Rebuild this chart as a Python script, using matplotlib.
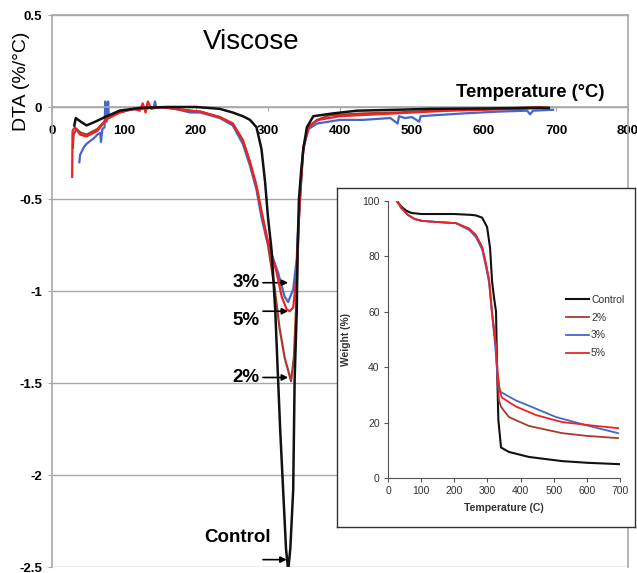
import numpy as np
import matplotlib
matplotlib.use("Agg")
import matplotlib.pyplot as plt

plt.rcParams['font.family'] = ['Liberation Sans', 'DejaVu Sans']

# DTA curves (temperature in C, DTA in %/C)
ctrl_t = [31, 33, 40, 48, 60, 76, 94, 122, 160, 200, 233, 251, 265, 275, 284, 291, 296, 300, 305, 310, 314, 317, 321, 325, 328,
          331, 335, 337, 340, 341, 343, 346, 349, 354, 363, 390, 424, 480, 525, 600, 664, 690]
ctrl_y = [-0.10, -0.06, -0.08, -0.10, -0.08, -0.05, -0.02, -0.005, 0.0, 0.0, -0.01, -0.03, -0.05, -0.07, -0.11, -0.23, -0.41, -0.60, -0.78, -1.10, -1.48, -1.76, -2.08, -2.40, -2.52,
          -2.40, -2.08, -1.48, -1.10, -0.78, -0.50, -0.35, -0.23, -0.11, -0.05, -0.035, -0.02, -0.015, -0.01, -0.008, -0.005, -0.005]

p2_t = [29, 30, 34, 40, 48, 63, 76, 94, 113, 150, 192, 206, 233, 251, 265, 275, 284, 291, 298, 309, 316, 323, 332,
        336, 339, 341, 343, 346, 349, 356, 368, 386, 432, 479, 530, 571, 620, 677, 690]
p2_y = [-0.22, -0.15, -0.12, -0.14, -0.15, -0.12, -0.065, -0.03, -0.01, 0.0, -0.02, -0.025, -0.055, -0.09, -0.18, -0.30, -0.43, -0.57, -0.70, -0.98, -1.20, -1.36, -1.49,
        -1.36, -1.09, -0.85, -0.60, -0.40, -0.22, -0.11, -0.07, -0.045, -0.035, -0.03, -0.02, -0.015, -0.01, 0.0, -0.005]

p3_t = [38, 39, 44, 48, 58, 63, 67, 68, 70, 73, 74, 76, 78, 79, 81, 94, 122, 141, 143, 145, 160, 192, 206, 233, 251, 265, 275, 284, 291, 298, 305, 314, 323, 328,
        335, 340, 341, 343, 346, 349, 356, 368, 400, 432, 470, 480, 482, 490, 500, 510, 512, 530, 571, 620, 660, 664, 668, 696]
p3_y = [-0.30, -0.26, -0.22, -0.20, -0.17, -0.15, -0.14, -0.19, -0.12, -0.11, 0.03, -0.08, 0.03, -0.06, -0.05, -0.02, -0.01, -0.005, 0.03, -0.005, 0.0, -0.03, -0.03, -0.06, -0.10, -0.20, -0.32, -0.45, -0.60, -0.72, -0.80, -0.90, -1.03, -1.06,
        -0.99, -0.82, -0.72, -0.60, -0.41, -0.23, -0.12, -0.09, -0.07, -0.07, -0.06, -0.09, -0.05, -0.06, -0.055, -0.08, -0.05, -0.045, -0.035, -0.025, -0.02, -0.04, -0.02, -0.015]

p5_t = [28, 28.5, 30, 32, 39, 48, 63, 76, 94, 113, 122, 126, 130, 133, 138, 150, 192, 206, 233, 251, 265, 275, 284, 291, 298, 305, 312, 319, 326, 330,
        335, 340, 342, 344, 347, 350, 358, 370, 400, 450, 500, 550, 600, 650, 680]
p5_y = [-0.38, -0.13, -0.12, -0.11, -0.15, -0.16, -0.13, -0.065, -0.03, -0.01, -0.02, 0.02, -0.03, 0.03, -0.01, 0.0, -0.02, -0.025, -0.055, -0.09, -0.18, -0.30, -0.43, -0.57, -0.70, -0.80, -0.90, -1.03, -1.10, -1.11,
        -1.09, -0.90, -0.70, -0.50, -0.32, -0.20, -0.10, -0.07, -0.05, -0.04, -0.03, -0.02, -0.015, -0.01, -0.005]

# TGA curves for the inset (temperature in C, weight %)
tga_ctrl_t = [27, 40, 55, 70, 100, 150, 200, 250, 265, 284, 299, 308, 314, 320, 326, 329, 333, 341, 365, 425, 525, 600, 697]
tga_ctrl_w = [100, 98, 96.5, 95.7, 95.3, 95.3, 95.3, 95.0, 94.8, 94.0, 90.6, 83, 71, 65, 60, 40, 21, 11, 9.4, 7.6, 6.1, 5.5, 5.0]

tga_2_t = [27, 40, 60, 80, 103, 150, 205, 245, 265, 284, 295, 305, 314, 326, 330, 335, 341, 365, 425, 525, 600, 694]
tga_2_w = [100, 97.5, 95, 93.5, 92.8, 92.4, 92, 90, 87.7, 83.4, 77.6, 71.5, 59.6, 47.4, 36, 28, 25.7, 22, 18.8, 16.2, 15.2, 14.4]

tga_3_t = [27, 40, 60, 80, 103, 150, 205, 245, 265, 284, 295, 305, 314, 324, 330, 336, 341, 386, 447, 507, 606, 694]
tga_3_w = [100, 97.5, 95, 93.5, 92.8, 92.4, 92, 89.5, 87, 82.5, 76.5, 70.5, 59, 47, 37, 32, 31, 28, 25, 22, 18.8, 16.2]

tga_5_t = [27, 40, 60, 80, 103, 150, 205, 245, 265, 284, 295, 305, 314, 326, 331, 338, 344, 386, 447, 525, 627, 694]
tga_5_w = [100, 97.5, 95, 93.5, 92.8, 92.4, 92, 90, 87.7, 83.4, 77.6, 71.5, 59.6, 47.4, 38, 31, 29, 25.8, 22.7, 20.2, 18.8, 18.0]

labels = ['Control', '2%', '3%', '5%']
colors = ['#111111', '#a83a2a', '#4466cc', '#ee2222']

# peak notes: label, label y, arrow y
note_names = ['3%', '5%', '2%', 'Control']
note_text_y = [-0.955, -1.16, -1.47, -2.34]
note_arrow_y = [-0.955, -1.11, -1.47, -2.46]

fig = plt.figure(figsize=(6.37, 5.73), dpi=100)
ax = fig.add_axes([52 / 637, 6 / 573, 576 / 637, 552 / 573])

grid_col = '#a8a8a8'
ax.plot(ctrl_t, ctrl_y, color=colors[0], lw=1.8, zorder=5)
ax.plot(p2_t, p2_y, color=colors[1], lw=1.6, zorder=3)
ax.plot(p3_t, p3_y, color=colors[2], lw=1.6, zorder=2)
ax.plot(p5_t, p5_y, color=colors[3], lw=1.6, zorder=4)

ax.set_xlim(0, 800)
ax.set_ylim(-2.5, 0.5)
ax.set_xticks(np.arange(0, 801, 100))
ax.set_yticks([-2.5, -2, -1.5, -1, -0.5, 0, 0.5])
ax.set_yticklabels(['-2.5', '-2', '-1.5', '-1', '-0.5', '0', '0.5'])
ax.yaxis.grid(True, color=grid_col, lw=1)
ax.set_axisbelow(True)
for s in ax.spines.values():
    s.set_color(grid_col)
    s.set_linewidth(1.2)
ax.spines['bottom'].set_position(('data', 0))
ax.tick_params(axis='x', length=3, color=grid_col, pad=10, labelsize=9.5)
ax.tick_params(axis='y', length=3, color=grid_col, pad=4, labelsize=9.5)
for lab in ax.get_xticklabels() + ax.get_yticklabels():
    lab.set_fontweight('bold')

ax.text(0.345, 0.951, 'Viscose', transform=ax.transAxes, fontsize=20, ha='center', va='center')
ax.text(0.83, 0.86, 'Temperature (°C)', transform=ax.transAxes, fontsize=13.3,
        fontweight='bold', ha='center', va='center')
fig.text(22 / 637, 1 - 81 / 573, 'DTA (%/°C)', rotation=90, fontsize=14, ha='center', va='center')

# arrows and labels for the peaks
arrow_kw = dict(arrowstyle='-|>', color='black', lw=1.2, mutation_scale=9, shrinkA=0, shrinkB=0)
for name, ty, ay in zip(note_names, note_text_y, note_arrow_y):
    if name == 'Control':
        ax.text(258, ty, name, fontsize=13.5, fontweight='bold', ha='center', va='center')
        ax.annotate('', xy=(326, ay), xytext=(293, ay), arrowprops=arrow_kw)
    else:
        ax.text(270, ty, name, fontsize=13.5, fontweight='bold', ha='center', va='center')
        ax.annotate('', xy=(328, ay), xytext=(293, ay), arrowprops=arrow_kw)

# inset frame and TGA inset
frame = fig.add_axes([337 / 637, 1 - 527 / 573, 298 / 637, 339 / 573])
frame.set_xticks([])
frame.set_yticks([])
for s in frame.spines.values():
    s.set_color('#333333')
    s.set_linewidth(1.0)

ins = fig.add_axes([388 / 637, 1 - 478 / 573, 232 / 637, 277 / 573])
ins.plot(tga_ctrl_t, tga_ctrl_w, color=colors[0], lw=1.5, label=labels[0])
ins.plot(tga_2_t, tga_2_w, color=colors[1], lw=1.3, label=labels[1])
ins.plot(tga_3_t, tga_3_w, color=colors[2], lw=1.3, label=labels[2])
ins.plot(tga_5_t, tga_5_w, color=colors[3], lw=1.3, label=labels[3])
ins.set_xlim(0, 700)
ins.set_ylim(0, 100)
ins.set_xticks(np.arange(0, 701, 100))
ins.set_yticks(np.arange(0, 101, 20))
ins.spines['top'].set_visible(False)
ins.spines['right'].set_visible(False)
for s in ['left', 'bottom']:
    ins.spines[s].set_color('#555555')
ins.tick_params(length=3, color='#555555', labelsize=7.5, labelcolor='#333333', pad=3)
ins.set_xlabel('Temperature (C)', fontsize=7.6, fontweight='bold', color='#333333', labelpad=5)
ins.set_ylabel('Weight (%)', fontsize=7.4, fontweight='bold', color='#333333', labelpad=8)
ins.legend(loc='upper left', bbox_to_anchor=(0.745, 0.68), frameon=False, fontsize=7.5,
           handlelength=2.2, handletextpad=0.2, labelspacing=0.75, borderpad=0, labelcolor='#333333')

fig.savefig('out.png', dpi=100)
